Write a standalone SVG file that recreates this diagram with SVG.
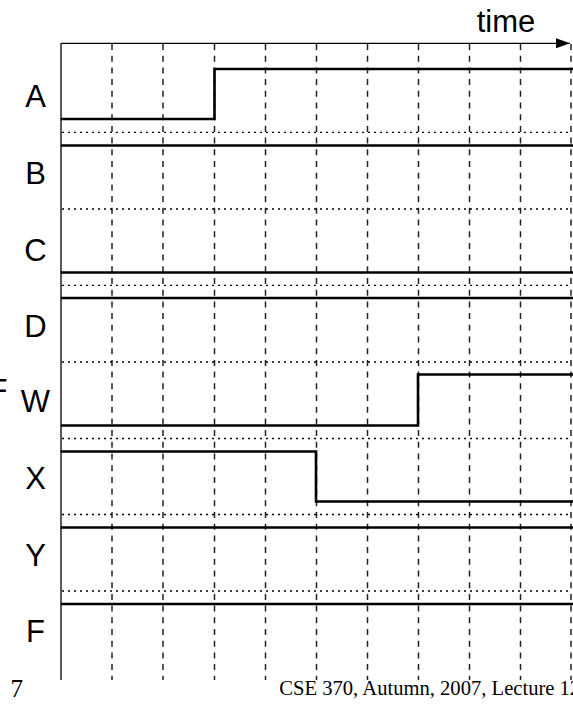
<svg xmlns="http://www.w3.org/2000/svg" width="573" height="704" viewBox="0 0 573 704">
<style>
.lbl{font-family:"Liberation Sans",Arial,sans-serif;font-size:31px;fill:#000;text-anchor:middle}
.axis{stroke:#000;stroke-width:1.3;fill:none}
.grid{stroke:#222;stroke-width:1.5;stroke-dasharray:6 5.7;fill:none}
.dot{stroke:#000;stroke-width:1.3;stroke-dasharray:2 4;fill:none}
.sig{stroke:#000;stroke-width:2.6;fill:none;stroke-linejoin:miter;stroke-linecap:square}
.foot{font-family:"Liberation Serif","Times New Roman",serif;fill:#000}
</style>
<defs>
<marker id="arr" viewBox="0 0 14 10" refX="14" refY="5" markerWidth="14" markerHeight="10" markerUnits="userSpaceOnUse" orient="auto">
<path d="M0,0 L14,5 L0,10 Z" fill="#000"/>
</marker>
</defs>
<rect width="573" height="704" fill="#fff"/>
<g id="grid">
<line class="grid" x1="112" y1="44" x2="112" y2="680"/>
<line class="grid" x1="163" y1="44" x2="163" y2="680"/>
<line class="grid" x1="214.5" y1="44" x2="214.5" y2="680"/>
<line class="grid" x1="265.5" y1="44" x2="265.5" y2="680"/>
<line class="grid" x1="316.5" y1="44" x2="316.5" y2="680"/>
<line class="grid" x1="367.5" y1="44" x2="367.5" y2="680"/>
<line class="grid" x1="418.5" y1="44" x2="418.5" y2="680"/>
<line class="grid" x1="469.5" y1="44" x2="469.5" y2="680"/>
<line class="grid" x1="520.5" y1="44" x2="520.5" y2="680"/>
<line class="grid" x1="571" y1="44" x2="571" y2="680"/>
<line class="dot" x1="62" y1="132.3" x2="570" y2="132.3"/>
<line class="dot" x1="62" y1="209" x2="570" y2="209"/>
<line class="dot" x1="62" y1="285.3" x2="570" y2="285.3"/>
<line class="dot" x1="62" y1="362" x2="570" y2="362"/>
<line class="dot" x1="62" y1="438.5" x2="570" y2="438.5"/>
<line class="dot" x1="62" y1="514.5" x2="570" y2="514.5"/>
<line class="dot" x1="62" y1="591" x2="570" y2="591"/>
</g>
<g id="axes">
<line class="axis" x1="61" y1="43.3" x2="61" y2="680"/>
<line class="axis" x1="61" y1="43.3" x2="570" y2="43.3" marker-end="url(#arr)"/>
<text class="lbl" x="506" y="31.5">time</text>
</g>
<g id="signal-A"><text class="lbl" x="35.5" y="106.7">A</text><polyline class="sig" points="62,119 214.5,119 214.5,69 572,69"/></g>
<g id="signal-B"><text class="lbl" x="35.5" y="184">B</text><line class="sig" x1="62" y1="145.5" x2="572" y2="145.5"/></g>
<g id="signal-C"><text class="lbl" x="35.5" y="260.5">C</text><line class="sig" x1="62" y1="272.5" x2="572" y2="272.5"/></g>
<g id="signal-D"><text class="lbl" x="35.5" y="336.5">D</text><line class="sig" x1="62" y1="298" x2="572" y2="298"/></g>
<g id="signal-W"><text class="lbl" x="35.5" y="411.7">W</text><text class="lbl" x="-2" y="400.5">F</text><polyline class="sig" points="62,425.5 418,425.5 418,374.5 572,374.5"/></g>
<g id="signal-X"><text class="lbl" x="35.5" y="489.3">X</text><polyline class="sig" points="62,451.5 316,451.5 316,501.5 572,501.5"/></g>
<g id="signal-Y"><text class="lbl" x="35.5" y="566">Y</text><line class="sig" x1="62" y1="527.5" x2="572" y2="527.5"/></g>
<g id="signal-F"><text class="lbl" x="35.5" y="641.7">F</text><line class="sig" x1="62" y1="604" x2="572" y2="604"/></g>
<g id="footer">
<text class="foot" x="10.5" y="697" font-size="25">7</text>
<text class="foot" x="279.3" y="695" font-size="20.6">CSE 370, Autumn, 2007, Lecture 12</text>
</g>
</svg>
